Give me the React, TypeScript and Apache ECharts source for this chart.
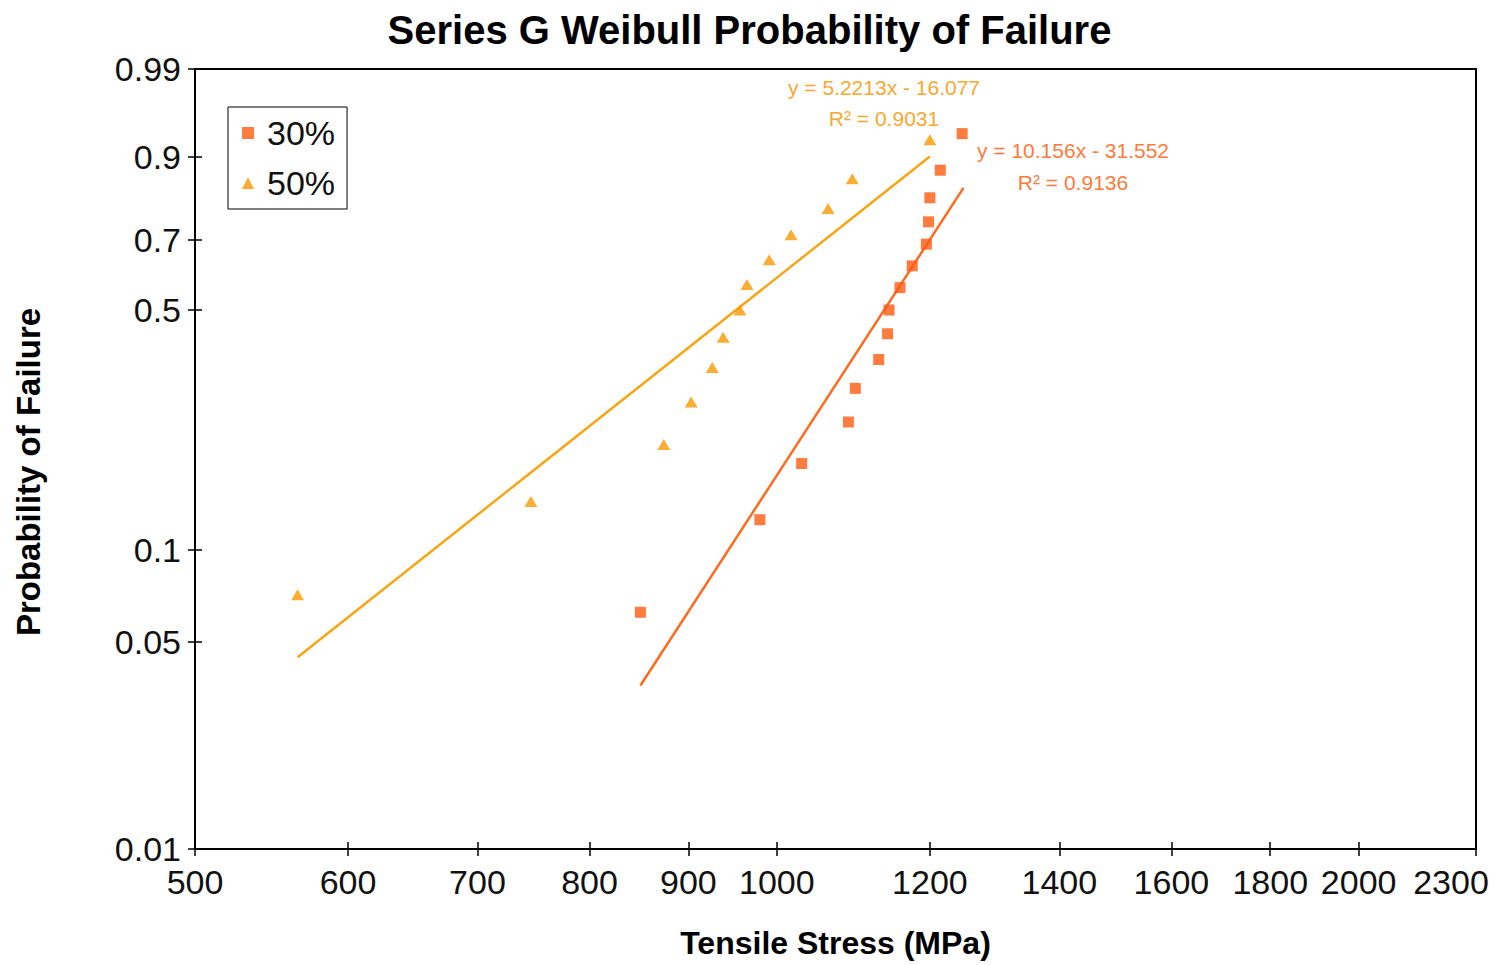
import React, { useEffect, useRef } from 'react';
import * as echarts from 'echarts';

// ---- data ----
const xTickLabels = [500, 600, 700, 800, 900, 1000, 1200, 1400, 1600, 1800, 2000, 2300];
const yTickLabels = [0.01, 0.05, 0.1, 0.5, 0.7, 0.9, 0.99];
const seriesNames = ['30%', '50%'];

// 30% series: tensile stress (MPa) and probability of failure
const stress30 = [850, 980, 1030, 1089, 1098, 1129, 1141, 1143, 1158, 1175, 1195, 1198, 1200, 1215, 1247];
const prob30 = [0.0625, 0.125, 0.1875, 0.25, 0.3125, 0.375, 0.4375, 0.5, 0.5625, 0.625, 0.6875, 0.75, 0.8125, 0.875, 0.9375];

// 50% series
const stress50 = [565, 746, 874, 903, 926, 938, 957, 965, 991, 1017, 1063, 1094, 1200];
const prob50 = [0.0714, 0.1429, 0.2143, 0.2857, 0.3571, 0.4286, 0.5, 0.5714, 0.6429, 0.7143, 0.7857, 0.8571, 0.9286];

// trend lines (Weibull space: ln(-ln(1-F)) = slope * ln(stress) + intercept)
const fit30Slope = 10.156;
const fit30Intercept = -71.82;
const fit30Range = [850, 1249];
const fit50Slope = 5.2213;
const fit50Intercept = -36.18;
const fit50Range = [565, 1200];

const eq30 = ['y = 10.156x - 31.552', 'R² = 0.9136'];
const eq50 = ['y = 5.2213x - 16.077', 'R² = 0.9031'];

const weib = (p: number) => Math.log(-Math.log(1 - p));
const FONT = 'Liberation Sans, Arial, Helvetica, sans-serif';

export default function App() {
  const ref = useRef<HTMLDivElement>(null);
  useEffect(() => {
    if (!ref.current) return;
    const chart = echarts.init(ref.current, null, { renderer: 'svg' });

    const c30 = '#FF5A10';
    const c50 = '#F79A00';
    const l30 = '#FF6A1E';
    const l50 = '#F7A514';

    const pts30 = stress30.map((s, i) => [Math.log(s), weib(prob30[i])]);
    const pts50 = stress50.map((s, i) => [Math.log(s), weib(prob50[i])]);
    const line30 = fit30Range.map((s) => [Math.log(s), fit30Slope * Math.log(s) + fit30Intercept]);
    const line50 = fit50Range.map((s) => [Math.log(s), fit50Slope * Math.log(s) + fit50Intercept]);

    const xMin = Math.log(xTickLabels[0]);
    const xMax = Math.log(xTickLabels[xTickLabels.length - 1]);
    const yMin = weib(yTickLabels[0]);
    const yMax = weib(yTickLabels[yTickLabels.length - 1]);
    const xVals = xTickLabels.map((v) => Math.log(v));
    const yVals = yTickLabels.map((p) => weib(p));

    const xLast = xTickLabels[xTickLabels.length - 1];
    const xFmt = (v: number) => {
      const n = Math.round(Math.exp(v));
      return n === xLast ? `{last|${n}}` : String(n);
    };
    const yFmt = (v: number) => {
      const p = yTickLabels.find((q) => Math.abs(weib(q) - v) < 1e-3);
      return p === undefined ? '' : String(p);
    };

    const eqText = (x: number, y: number, text: string, color: string) => ({
      type: 'text',
      x,
      y,
      style: {
        text,
        fill: color,
        font: `21px ${FONT}`,
        textAlign: 'center',
        textVerticalAlign: 'middle',
      },
    });

    chart.setOption({
      animation: false,
      backgroundColor: '#ffffff',
      title: {
        text: 'Series G Weibull Probability of Failure',
        left: 'center',
        top: 5,
        textStyle: { fontFamily: FONT, fontSize: 40, fontWeight: 'bold', color: '#000' },
      },
      legend: {
        data: seriesNames,
        orient: 'vertical',
        left: 228,
        top: 107,
        padding: [7, 12, 7, 14],
        itemGap: 12,
        itemWidth: 12,
        itemHeight: 12,
        borderColor: '#000',
        borderWidth: 1,
        textStyle: { fontFamily: FONT, fontSize: 34, color: '#111', padding: [0, 0, 0, 8], lineHeight: 38 },
      },
      grid: {
        left: 195,
        right: 23,
        top: 69,
        bottom: 116,
        show: true,
        borderColor: '#000',
        borderWidth: 2,
        backgroundColor: 'transparent',
        containLabel: false,
        outerBoundsMode: 'none',
      },
      xAxis: [
        {
          type: 'value',
          min: xMin,
          max: xMax,
          position: 'bottom',
          name: 'Tensile Stress (MPa)',
          nameLocation: 'middle',
          nameGap: 78,
          nameTextStyle: { fontFamily: FONT, fontSize: 32, fontWeight: 'bold', color: '#000' },
          axisLine: { show: true, onZero: false, lineStyle: { color: '#000', width: 2 } },
          axisTick: { show: true, customValues: xVals, length: 7, lineStyle: { color: '#000', width: 1.5 } },
          axisLabel: {
            customValues: xVals,
            formatter: xFmt,
            margin: 16,
            fontFamily: FONT,
            fontSize: 34,
            color: '#111',
            rich: {
              last: { fontFamily: FONT, fontSize: 34, color: '#111', padding: [0, 50, 0, 0] },
            },
          },
          splitLine: { show: false },
        },
        {
          type: 'value',
          min: xMin,
          max: xMax,
          position: 'bottom',
          axisLine: { show: false, onZero: false },
          axisTick: { show: true, inside: true, customValues: xVals, length: 7, lineStyle: { color: '#000', width: 1.5 } },
          axisLabel: { show: false },
          splitLine: { show: false },
        },
      ],
      yAxis: [
        {
          type: 'value',
          min: yMin,
          max: yMax,
          position: 'left',
          name: 'Probability of Failure',
          nameLocation: 'middle',
          nameGap: 150,
          nameRotate: 90,
          nameTextStyle: { fontFamily: FONT, fontSize: 33, fontWeight: 'bold', color: '#000', padding: [0, 26, 0, 0] },
          axisLine: { show: true, onZero: false, lineStyle: { color: '#000', width: 2 } },
          axisTick: { show: true, customValues: yVals, length: 7, lineStyle: { color: '#000', width: 1.5 } },
          axisLabel: {
            customValues: yVals,
            formatter: yFmt,
            margin: 14,
            fontFamily: FONT,
            fontSize: 34,
            color: '#111',
          },
          splitLine: { show: false },
        },
        {
          type: 'value',
          min: yMin,
          max: yMax,
          position: 'left',
          axisLine: { show: false, onZero: false },
          axisTick: { show: true, inside: true, customValues: yVals, length: 7, lineStyle: { color: '#000', width: 1.5 } },
          axisLabel: { show: false },
          splitLine: { show: false },
        },
      ],
      series: [
        {
          name: seriesNames[0],
          type: 'scatter',
          symbol: 'rect',
          symbolSize: 11,
          itemStyle: { color: c30 },
          data: pts30,
          z: 3,
        },
        {
          name: seriesNames[1],
          type: 'scatter',
          symbol: 'triangle',
          symbolSize: [13, 11],
          itemStyle: { color: c50 },
          data: pts50,
          z: 3,
        },
        {
          name: 'fit30',
          type: 'line',
          data: line30,
          symbol: 'none',
          lineStyle: { color: l30, width: 2.5 },
          z: 2,
        },
        {
          name: 'fit50',
          type: 'line',
          data: line50,
          symbol: 'none',
          lineStyle: { color: l50, width: 2.5 },
          z: 2,
        },
      ],
      graphic: [
        eqText(884, 87, eq50[0], '#F7A830'),
        eqText(884, 118, eq50[1], '#F7A830'),
        eqText(1073, 150, eq30[0], '#FF7A3A'),
        eqText(1073, 182, eq30[1], '#FF7A3A'),
      ],
    });

    return () => chart.dispose();
  }, []);

  return (
    <div
      ref={ref}
      style={{ position: 'fixed', left: 0, top: 0, width: 1499, height: 965, background: '#fff' }}
    />
  );
}
